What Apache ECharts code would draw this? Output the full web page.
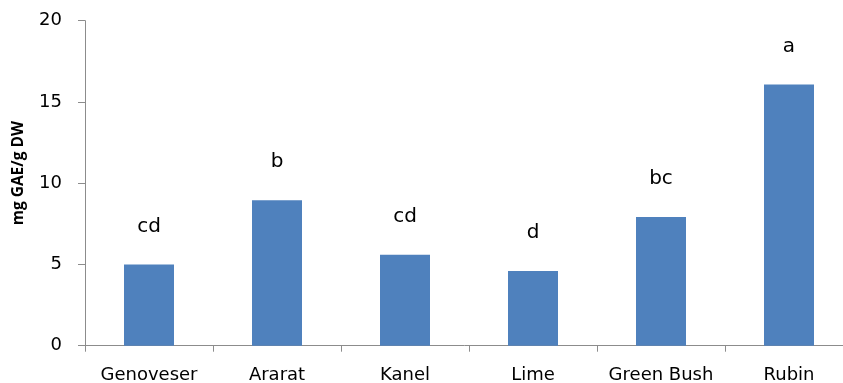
<!DOCTYPE html>
<html>
<head>
<meta charset="utf-8">
<script src="https://cdn.jsdelivr.net/npm/echarts@6/dist/echarts.min.js"></script>
<style>
  html, body { margin: 0; padding: 0; background: #fff; }
  #chart { width: 843px; height: 383px; }
</style>
</head>
<body>
<div id="chart"></div>
<script>
const categories = ['Genoveser', 'Ararat', 'Kanel', 'Lime', 'Green Bush', 'Rubin'];
const values = [5.0, 8.95, 5.6, 4.6, 7.92, 16.08];
const letters = ['cd', 'b', 'cd', 'd', 'bc', 'a'];
const yTicks = [0, 5, 10, 15, 20];

const chart = echarts.init(document.getElementById('chart'));

const axisColor = '#8c8c8c';
const font = '"DejaVu Sans", sans-serif';

const option = {
  backgroundColor: '#ffffff',
  animation: false,
  grid: {
    left: 85,
    top: 20.7,
    width: 768,
    height: 325,
    containLabel: false,
    outerBoundsMode: 'none'
  },
  xAxis: {
    type: 'category',
    data: categories,
    axisLine: { lineStyle: { color: axisColor, width: 1 } },
    axisTick: { show: true, alignWithLabel: false, length: 6, lineStyle: { color: axisColor } },
    axisLabel: {
      color: '#000',
      fontFamily: font,
      fontSize: 18,
      margin: 21,
      interval: 0
    }
  },
  yAxis: {
    type: 'value',
    min: yTicks[0],
    max: yTicks[yTicks.length - 1],
    interval: 5,
    name: 'mg GAE/g DW',
    nameLocation: 'middle',
    nameGap: 58,
    nameTextStyle: {
      color: '#000',
      fontFamily: '"Open Sans", sans-serif',
      fontSize: 15.5,
      fontWeight: 'bold',
      padding: [0, 0, 0, 20]
    },
    axisLine: { show: true, lineStyle: { color: axisColor, width: 1 } },
    axisTick: { show: true, length: 7, lineStyle: { color: axisColor } },
    axisLabel: {
      color: '#000',
      fontFamily: font,
      fontSize: 18,
      margin: 23
    },
    splitLine: { show: false }
  },
  series: [{
    type: 'bar',
    data: values,
    barWidth: 50,
    itemStyle: { color: '#4f81bd' },
    label: {
      show: true,
      position: 'top',
      distance: 28,
      color: '#000',
      fontFamily: font,
      fontSize: 20,
      formatter: (p) => letters[p.dataIndex]
    }
  }]
};

chart.setOption(option);
</script>
</body>
</html>
